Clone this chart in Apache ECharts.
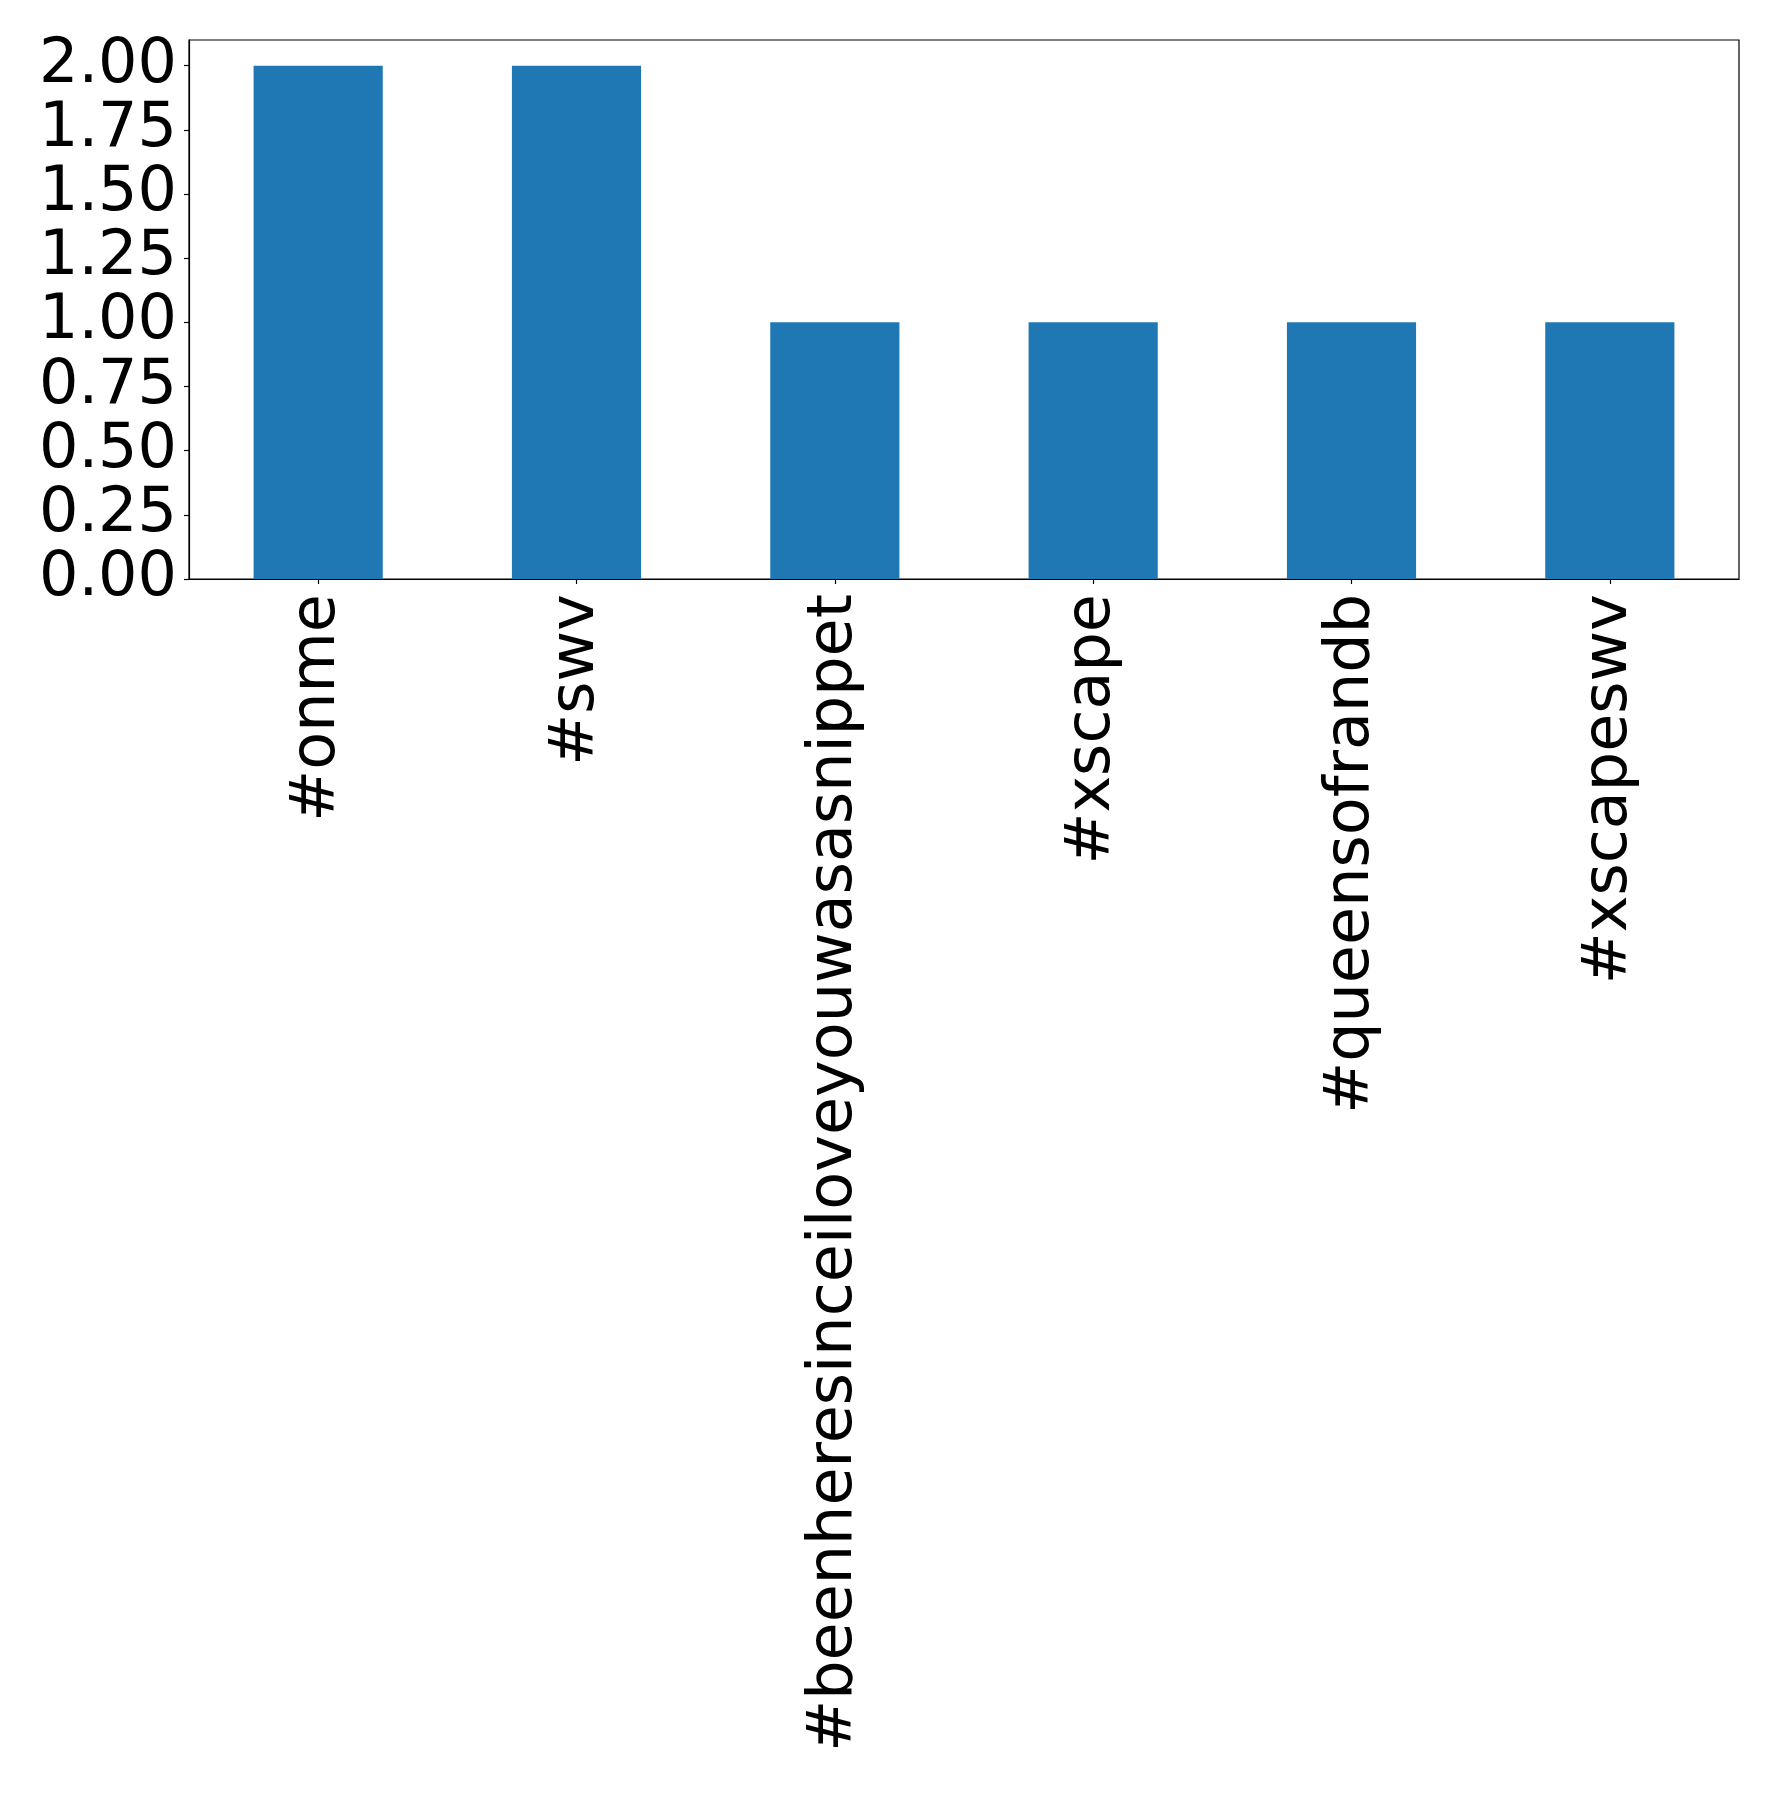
<!DOCTYPE html>
<html>
<head>
<meta charset="utf-8">
<script src="https://cdn.jsdelivr.net/npm/echarts@6/dist/echarts.min.js"></script>
<style>
html,body{margin:0;padding:0;background:#fff;}
#chart{width:1778px;height:1795px;}
</style>
</head>
<body>
<div id="chart"></div>
<script>
const categories = ['#onme', '#swv', '#beenheresinceiloveyouwasasnippet', '#xscape', '#queensofrandb', '#xscapeswv'];
const counts = [2, 2, 1, 1, 1, 1];
const yTicks = [0, 0.25, 0.5, 0.75, 1.0, 1.25, 1.5, 1.75, 2.0];

const chart = echarts.init(document.getElementById('chart'), null, {renderer: 'canvas'});
const font = 'DejaVu Sans';
chart.setOption({
  animation: false,
  backgroundColor: '#ffffff',
  grid: {
    left: 189, right: 39, top: 40, bottom: 1216,
    show: true, borderColor: '#000', borderWidth: 1.2, backgroundColor: 'transparent'
  },
  xAxis: {
    type: 'category',
    data: categories,
    boundaryGap: true,
    axisLine: {show: true, lineStyle: {color: '#000', width: 1.2}},
    axisTick: {show: true, alignWithLabel: true, length: 5, lineStyle: {color: '#000', width: 1.2}},
    axisLabel: {
      rotate: 90, margin: 15, interval: 0,
      fontFamily: font, fontSize: 62, color: '#000'
    },
    splitLine: {show: false}
  },
  yAxis: {
    type: 'value',
    min: 0, max: 2.1, interval: 0.25,
    axisLine: {show: true, lineStyle: {color: '#000', width: 1.2}},
    axisTick: {show: true, length: 5, customValues: yTicks, lineStyle: {color: '#000', width: 1.2}},
    axisLabel: {
      customValues: yTicks,
      margin: 12,
      fontFamily: font, fontSize: 62, color: '#000',
      formatter: v => Number(v).toFixed(2)
    },
    splitLine: {show: false}
  },
  series: [{
    type: 'bar',
    data: counts,
    barWidth: '50%',
    itemStyle: {color: '#1f77b4'}
  }]
});
</script>
</body>
</html>
